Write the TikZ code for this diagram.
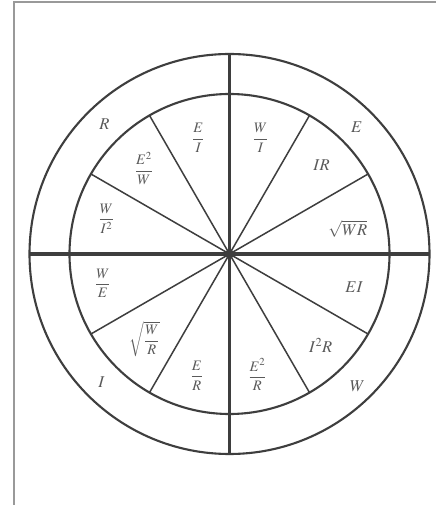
\documentclass[tikz,border=0pt]{standalone}
\usepackage{mathptmx}
\usepackage{amsmath}
\usepackage{tikz}
\usetikzlibrary{positioning}
\definecolor{ink}{HTML}{3E3E3E}
\definecolor{txt}{HTML}{5A5A5A}

\begin{document}
\begin{tikzpicture}[
  x=1pt, y=1pt,
  every node/.style={text=txt},
  big/.style={font=\fontsize{16.5}{18}\selectfont, inner sep=0pt},
  frac/.style={font=\fontsize{14.5}{16}\selectfont, inner sep=0pt},
  ring/.style={draw=ink, line width=2.1pt},
  axis/.style={draw=ink, line width=3.4pt},
  spoke/.style={draw=ink, line width=1.5pt},
  frm/.style={draw=gray!80, line width=1.8pt}
]
\useasboundingbox[fill=white] (-229.5,-251) rectangle (206.5,254);
% ── frame ──────────────────────────────────────
\coordinate (fb) at (-215.5,-251);
\coordinate (fc) at (-215.5,252);
\coordinate (fr) at (206.5,252);
\draw[frm] (fb) -- (fc) -- (fr);
% ── rings and axes ─────────────────────────────
\node[circle, fill=ink, inner sep=0pt, minimum size=9pt] (c) at (0,0) {};
\draw[ring] (c.center) circle[radius=200pt];
\draw[ring] (c.center) circle[radius=160pt];
\coordinate (n) at (90:200);
\coordinate (s) at (270:200);
\coordinate (w) at (180:200);
\coordinate (e) at (0:200);
\draw[axis] (n) -- (s);
\draw[axis] (w) -- (e);
\foreach \a in {30,60,120,150,210,240,300,330}
  \draw[spoke] (c.center) -- (\a:160);
% ── outer labels ───────────────────────────────
\node[big] (lr) at (134:180) {$R$};
\node[big] (le) at (45:180)  {$E$};
\node[big] (li) at (225:181) {$I$};
\node[big] (lw) at (314:184) {$W$};
% ── sector labels ──────────────────────────────
\node[frac] (wi)   at (75:120)  {$\dfrac{W}{I}$};
\node[frac] (ei)   at (105:120) {$\dfrac{E}{I}$};
\node[frac] (eew)  at (135:121) {$\dfrac{E^2}{W}$};
\node[frac] (wii)  at (164:128) {$\dfrac{W}{I^2}$};
\node[frac] (we)   at (193:130) {$\dfrac{W}{E}$};
\node[frac] (swr)  at (225:120) {$\sqrt{\dfrac{W}{R}}$};
\node[frac] (er)   at (255:126) {$\dfrac{E}{R}$};
\node[frac] (eer)  at (283:124) {$\dfrac{E^2}{R}$};
\node[big]  (iir)  at (315:129) {$I^2R$};
\node[big]  (eii)  at (345:129) {$EI$};
\node[big]  (sqwr) at (12:121)  {$\sqrt{WR}$};
\node[big]  (ir)   at (44:128)  {$IR$};
\end{tikzpicture}
\end{document}
